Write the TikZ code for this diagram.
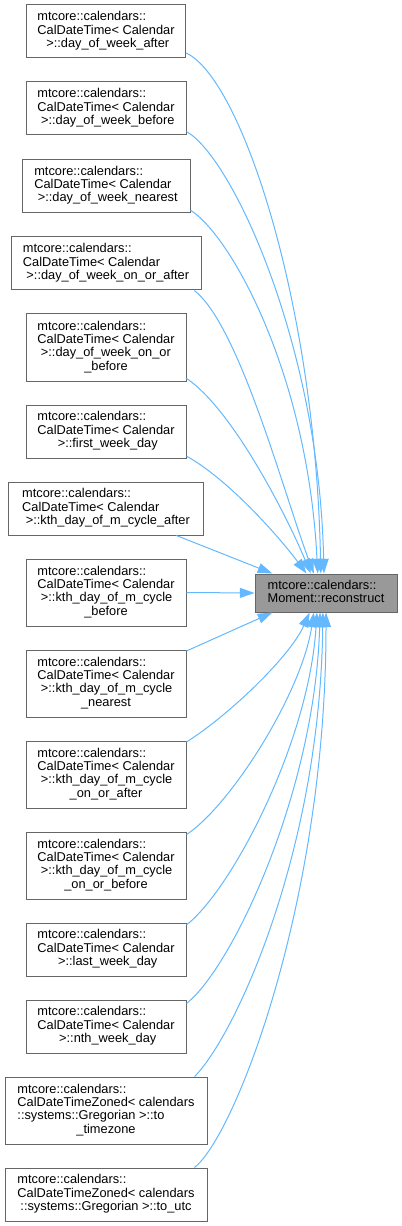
\documentclass[tikz,border=0pt]{standalone}
\usepackage{fontspec}
\setmainfont{Liberation Sans}
\usepackage{tikz}
\usetikzlibrary{arrows.meta}
\definecolor{edgeblue}{HTML}{63B8FF}
\definecolor{boxgray}{HTML}{666666}
\definecolor{focusgray}{HTML}{999999}
% label: all lines left aligned but the last one, which is centred
\newcommand{\fnlines}[2]{\begin{tabular}{@{}l@{}}#1\\\multicolumn{1}{@{}c@{}}{#2}\end{tabular}}

\begin{document}
\begin{tikzpicture}[x=0.75pt, y=-0.75pt,
    every node/.style={font=\fontsize{9.6}{10}\selectfont},
    fnbox/.style={draw=boxgray, fill=white, line width=0.75pt, inner sep=0pt},
    call/.style={draw=edgeblue, line width=0.75pt, -{Triangle[length=11pt, width=7.5pt]}}]
  \useasboundingbox (0,0) rectangle (401,1226);

  % callers
  \foreach \nm/\y/\w/\h/\txt in {
      n1/31.5/159/53/{\fnlines{mtcore::calendars::\\CalDateTime< Calendar}{\ >::day\_of\_week\_after}},
      n2/108.5/160/53/{\fnlines{mtcore::calendars::\\CalDateTime< Calendar}{\ >::day\_of\_week\_before}},
      n3/186/168/53/{\fnlines{mtcore::calendars::\\CalDateTime< Calendar}{\ >::day\_of\_week\_nearest}},
      n4/263.5/190/53/{\fnlines{mtcore::calendars::\\CalDateTime< Calendar}{\ >::day\_of\_week\_on\_or\_after}},
      n5/347.5/160/67/{\fnlines{mtcore::calendars::\\CalDateTime< Calendar\\\ >::day\_of\_week\_on\_or}{\_before}},
      n6/431.5/160/53/{\fnlines{mtcore::calendars::\\CalDateTime< Calendar}{\ >::first\_week\_day}},
      n7/508.5/195/53/{\fnlines{mtcore::calendars::\\CalDateTime< Calendar}{\ >::kth\_day\_of\_m\_cycle\_after}},
      n8/592.5/160/67/{\fnlines{mtcore::calendars::\\CalDateTime< Calendar\\\ >::kth\_day\_of\_m\_cycle}{\_before}},
      n9/683.5/160/67/{\fnlines{mtcore::calendars::\\CalDateTime< Calendar\\\ >::kth\_day\_of\_m\_cycle}{\_nearest}},
      n10/774.5/160/67/{\fnlines{mtcore::calendars::\\CalDateTime< Calendar\\\ >::kth\_day\_of\_m\_cycle}{\_on\_or\_after}},
      n11/865.5/160/67/{\fnlines{mtcore::calendars::\\CalDateTime< Calendar\\\ >::kth\_day\_of\_m\_cycle}{\_on\_or\_before}},
      n12/949.5/160/53/{\fnlines{mtcore::calendars::\\CalDateTime< Calendar}{\ >::last\_week\_day}},
      n13/1026.5/160/53/{\fnlines{mtcore::calendars::\\CalDateTime< Calendar}{\ >::nth\_week\_day}},
      n14/1110.5/202/67/{\fnlines{mtcore::calendars::\\CalDateTimeZoned< calendars\\::systems::Gregorian >::to}{\_timezone}},
      n15/1194.5/202/53/{\fnlines{mtcore::calendars::\\CalDateTimeZoned< calendars}{::systems::Gregorian >::to\_utc}}}{
    \node[fnbox, minimum width={0.75pt*\w}, minimum height={0.75pt*\h}] (\nm) at (106,\y) {\txt};
  }

  % the function itself
  \node[fnbox, fill=focusgray, minimum width={0.75pt*142}, minimum height={0.75pt*38}] (t) at (326,593)
    {\fnlines{mtcore::calendars::}{Moment::reconstruct}};

  % curved calls
  \foreach \s/\a/\ax/\ay/\bx/\by/\b in {
      n1/-15/55/25/-5/-270/105,
      n2/-16/45/25/-5/-230/96,
      n3/-16/40/25/-10/-200/113,
      n4/-17/45/35/-30/-80/122,
      n5/-21/45/30/-25/-60/128,
      n6/-17/40/22/-30/-40/135,
      n10/22/40/-25/-20/45/-130,
      n11/21/45/-30/-12/80/-122,
      n12/17/45/-35/-8/130/-115,
      n13/16/45/-35/-5/180/-107,
      n14/21/40/-40/-3/240/-99,
      n15/17/40/-30/0/290/-90}{
    \draw[call] (\s.\a) .. controls +(\ax,\ay) and +(\bx,\by) .. (t.\b);
  }
  % straight calls
  \draw[call] (n7.-21) -- (t.160);
  \draw[call] (n8.east) -- (t.west);
  \draw[call] (n9.22) -- (t.-160);
\end{tikzpicture}
\end{document}
